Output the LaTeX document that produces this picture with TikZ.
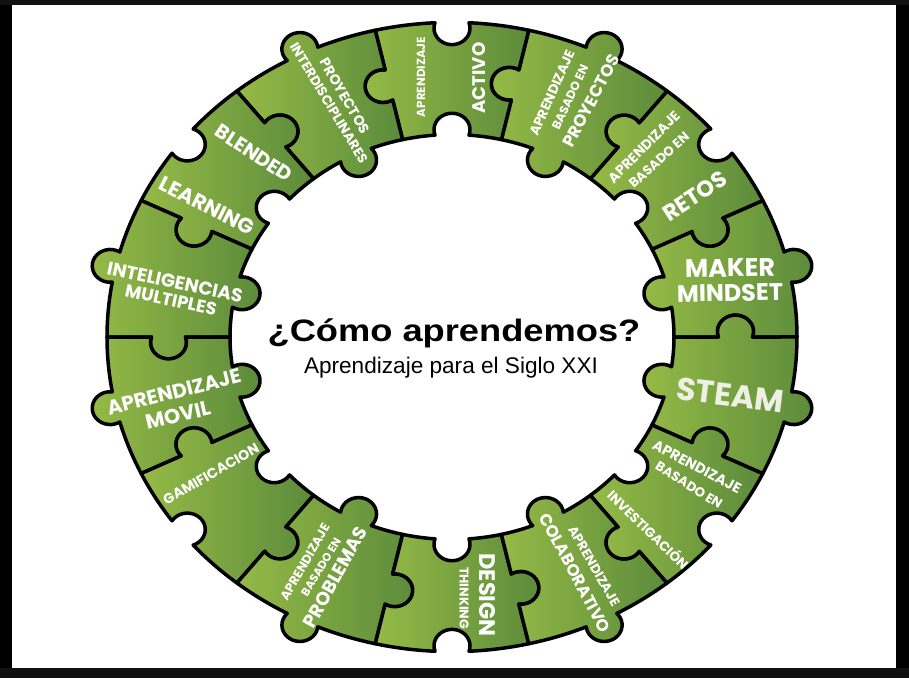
\documentclass[tikz,border=0pt]{standalone}
\usepackage{fontspec}
\usepackage{graphicx}
\usepackage{tikz}
\usetikzlibrary{calc}
\newfontfamily\ringfont{Poppins}
\newfontfamily\titlefont{Liberation Sans}
\definecolor{frameblack}{HTML}{000000}
\definecolor{framedark}{HTML}{111111}
\definecolor{glight}{HTML}{95BA46}
\definecolor{gdark}{HTML}{5C8B3B}
\definecolor{chalk}{HTML}{EEF0E6}
\tikzset{
  piece/.style={draw=black,line width=3.5pt,line join=round,left color=glight,right color=gdark},
  lbl/.style={text=white,inner sep=0pt},
  headline/.style={inner sep=0pt,anchor=base}
}
\newcommand\ringtxt[2]{\resizebox{#1pt}{!}{\ringfont\bfseries #2}}

\begin{document}
\begin{tikzpicture}[x=1pt,y=1pt]
  \useasboundingbox (-452,-341) rectangle (457,337);
  \fill[white] (-452,-341) rectangle (457,337);
  \fill[frameblack] (-452,-341) rectangle (-440,337);
  \fill[frameblack] (444,-341) rectangle (457,337);
  \fill[framedark] (-452,332) rectangle (457,337);
  \fill[framedark] (-452,-341) rectangle (457,-331);

  % ring of 14 puzzle pieces: k / outer+inner knob / knob at start edge / knob at end edge
  \begin{scope}[yscale=0.912]
    \foreach \k/\sg/\sa/\sb in {0/-1/1/-1, 1/1/-1/1, 2/-1/1/1, 3/1/1/1, 4/-1/1/-1,
      5/1/-1/1, 6/-1/1/1, 7/-1/1/-1, 8/1/-1/1, 9/-1/1/1, 10/1/1/1, 11/-1/1/-1,
      12/1/-1/1, 13/-1/1/1}{
      \pgfmathsetmacro\ta{\k*360/14}
      \pgfmathsetmacro\tb{\ta+360/14}
      \pgfmathsetmacro\tm{\ta+180/14}
      \pgfmathsetmacro\oa{\tm-2.819}
      \pgfmathsetmacro\ob{\tm+2.819}
      \pgfmathsetmacro\ia{\tm-4.384}
      \pgfmathsetmacro\ib{\tm+4.384}
      \pgfmathsetmacro\aA{\ta+180+(\sa)*19.47}
      \pgfmathsetmacro\dA{-(\sa)*218.94}
      \pgfmathsetmacro\aO{\tm+270+(\sg)*19.47}
      \pgfmathsetmacro\dO{-(\sg)*218.94}
      \pgfmathsetmacro\aB{\tb+360-(\sb)*19.47}
      \pgfmathsetmacro\dB{(\sb)*218.94}
      \pgfmathsetmacro\aI{\tm+90+(\sg)*19.47}
      \draw[piece] (\ta:222) -- (\ta:266.53)
        arc[start angle=\aA, delta angle=\dA, radius=18] -- (\ta:345)
        arc[start angle=\ta, end angle=\oa, radius=345]
        arc[start angle=\aO, delta angle=\dO, radius=18]
        arc[start angle=\ob, end angle=\tb, radius=345]
        -- (\tb:300.47)
        arc[start angle=\aB, delta angle=\dB, radius=18] -- (\tb:222)
        arc[start angle=\tb, end angle=\ib, radius=222]
        arc[start angle=\aI, delta angle=\dO, radius=18]
        arc[start angle=\ia, end angle=\ta, radius=222] -- cycle;
    }
  \end{scope}

  % labels
  \node[lbl,rotate=90] (activoa) at (-31,260) {\ringtxt{80}{APRENDIZAJE}};
  \node[lbl,rotate=90] (activob) at (27,259) {\ringtxt{71}{ACTIVO}};
  \node[lbl,rotate=66] (proya) at (100,244) {\ringtxt{92}{APRENDIZAJE}};
  \node[lbl,rotate=65] (proyb) at (118,240) {\ringtxt{70}{BASADO EN}};
  \node[lbl,rotate=62] (proyc) at (139,236) {\ringtxt{102}{PROYECTOS}};
  \node[lbl,rotate=45] (retosa) at (192,190) {\ringtxt{95}{APRENDIZAJE}};
  \node[lbl,rotate=42] (retosb) at (207,177) {\ringtxt{76}{BASADO EN}};
  \node[lbl,rotate=33] (retosc) at (243,141) {\ringtxt{72}{RETOS}};
  \node[lbl,rotate=1] (makera) at (278,69) {\ringtxt{90}{MAKER}};
  \node[lbl,rotate=1] (makerb) at (278,44) {\ringtxt{106}{MINDSET}};
  \node[lbl,text=chalk,rotate=-7] (steam) at (278,-58) {\ringtxt{108}{STEAM}};
  \node[lbl,rotate=-28] (investa) at (245,-130) {\ringtxt{98}{APRENDIZAJE}};
  \node[lbl,rotate=-32] (investb) at (237,-148) {\ringtxt{76}{BASADO EN}};
  \node[lbl,rotate=-44] (investc) at (197,-192) {\ringtxt{106}{INVESTIGACIÓN}};
  \node[lbl,rotate=-60] (colaba) at (142,-229) {\ringtxt{90}{APRENDIZAJE}};
  \node[lbl,rotate=-62] (colabb) at (123,-236) {\ringtxt{133}{COLABORATIVO}};
  \node[lbl,rotate=-90] (designa) at (35,-258) {\ringtxt{83}{DESIGN}};
  \node[lbl,rotate=-90] (designb) at (12,-261) {\ringtxt{62}{THINKING}};
  \node[lbl,rotate=60] (probla) at (-147,-225) {\ringtxt{86}{APRENDIZAJE}};
  \node[lbl,rotate=59] (problb) at (-131,-230) {\ringtxt{66}{BASADO EN}};
  \node[lbl,rotate=61] (problc) at (-117,-240) {\ringtxt{112}{PROBLEMAS}};
  \node[lbl,rotate=30] (gamif) at (-241,-137) {\ringtxt{108}{GAMIFICACION}};
  \node[lbl,rotate=14] (movila) at (-278,-55) {\ringtxt{137}{APRENDIZAJE}};
  \node[lbl,rotate=13] (movilb) at (-274,-78) {\ringtxt{66}{MOVIL}};
  \node[lbl,rotate=-12] (intela) at (-277,55) {\ringtxt{138}{INTELIGENCIAS}};
  \node[lbl,rotate=-12] (intelb) at (-281,37) {\ringtxt{93}{MULTIPLES}};
  \node[lbl,rotate=-33] (blenda) at (-198,184) {\ringtxt{88}{BLENDED}};
  \node[lbl,rotate=-27] (blendb) at (-245,131) {\ringtxt{104}{LEARNING}};
  \node[lbl,rotate=-60] (interda) at (-107,241) {\ringtxt{85}{PROYECTOS}};
  \node[lbl,rotate=-59] (interdb) at (-123,234) {\ringtxt{138}{INTERDISCIPLINARES}};

  \node[headline] (titulo) at (2,-4)
    {\titlefont\bfseries\fontsize{31}{36}\selectfont\scalebox{1.17}[1]{¿Cómo aprendemos?}};
  \node[headline] (subtitulo) at (-1,-36)
    {\titlefont\fontsize{22.6}{26}\selectfont Aprendizaje para el Siglo XXI};
\end{tikzpicture}
\end{document}
